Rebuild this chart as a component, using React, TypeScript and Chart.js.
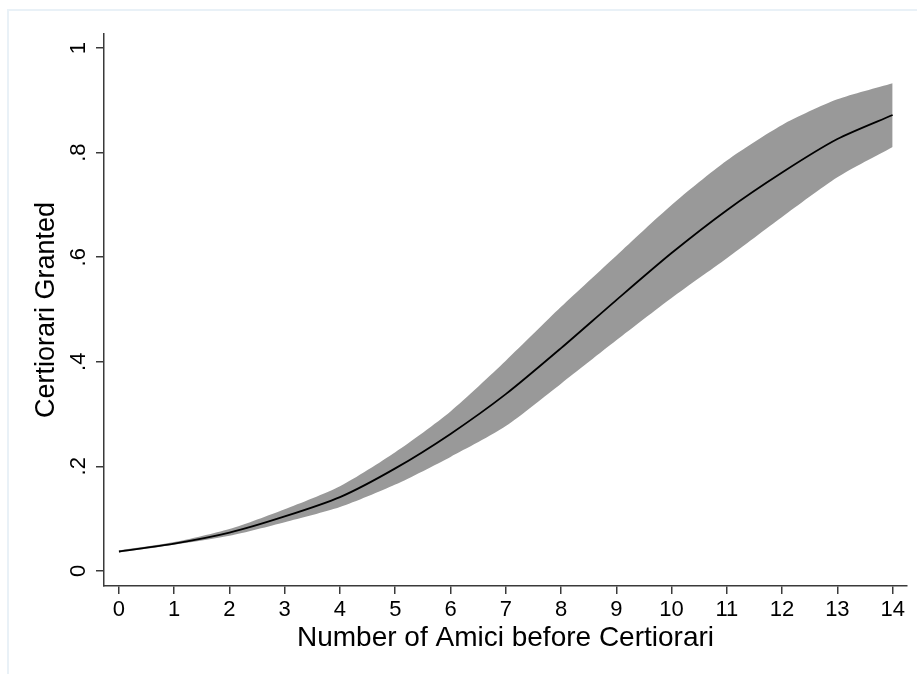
import React, { useEffect, useRef } from "react";
import { Chart, registerables } from "chart.js";

Chart.register(...registerables);

const amici = [0, 1, 2, 3, 4, 5, 6, 7, 8, 9, 10, 11, 12, 13, 14];
const predicted = [0.037, 0.052, 0.073, 0.104, 0.141, 0.196, 0.262, 0.338, 0.426, 0.518, 0.608, 0.69, 0.762, 0.826, 0.872];
const upperCI = [0.039, 0.055, 0.08, 0.118, 0.162, 0.227, 0.305, 0.402, 0.505, 0.603, 0.7, 0.785, 0.853, 0.902, 0.933];
const lowerCI = [0.035, 0.05, 0.067, 0.093, 0.122, 0.165, 0.218, 0.277, 0.358, 0.441, 0.522, 0.598, 0.677, 0.753, 0.811];
const yTickLabels = ["0", ".2", ".4", ".6", ".8", "1"];
const xTitle = "Number of Amici before Certiorari";
const yTitle = "Certiorari Granted";

const FONT = "'Liberation Sans', Arial, sans-serif";
const AXIS = "#3a3a3a";

const framePlugin = {
  id: "frame",
  beforeDraw(chart: any) {
    const ctx = chart.ctx;
    ctx.save();
    ctx.fillStyle = "#ffffff";
    ctx.fillRect(0, 0, chart.width, chart.height);
    ctx.strokeStyle = "#e9f1f7";
    ctx.lineWidth = 2;
    ctx.beginPath();
    ctx.moveTo(8, chart.height);
    ctx.lineTo(8, 10);
    ctx.lineTo(chart.width, 10);
    ctx.stroke();
    ctx.restore();
  },
};

export default function App() {
  const ref = useRef<HTMLCanvasElement | null>(null);
  useEffect(() => {
    if (!ref.current) return;
    const pts = (arr: number[]) => amici.map((x, i) => ({ x, y: arr[i] }));
    const chart = new Chart(ref.current, {
      type: "line",
      data: {
        datasets: [
          {
            label: "predicted",
            data: pts(predicted),
            borderWidth: 1.8,
            borderColor: "#000000",
            pointRadius: 0,
            fill: false,
            tension: 0.25,
            order: 0,
          },
          {
            label: "upper",
            data: pts(upperCI),
            borderWidth: 0,
            borderColor: "rgba(0,0,0,0)",
            backgroundColor: "#999999",
            pointRadius: 0,
            fill: "+1",
            tension: 0.25,
            order: 1,
          },
          {
            label: "lower",
            data: pts(lowerCI),
            borderWidth: 0,
            borderColor: "rgba(0,0,0,0)",
            backgroundColor: "#999999",
            pointRadius: 0,
            fill: false,
            tension: 0.25,
            order: 2,
          },
        ],
      },
      options: {
        animation: false,
        responsive: false,
        maintainAspectRatio: false,
        layout: { padding: { left: 0, top: 34, right: 10, bottom: 0 } },
        plugins: { legend: { display: false }, tooltip: { enabled: false } },
        scales: {
          x: {
            type: "linear",
            min: -0.27,
            max: 14.26,
            afterFit: (s: any) => {
              s.height = 88;
            },
            border: { display: true, color: AXIS, width: 1.5 },
            grid: { display: true, drawOnChartArea: false, tickLength: 8, color: AXIS, lineWidth: 1.5 },
            ticks: {
              stepSize: 1,
              includeBounds: false,
              autoSkip: false,
              maxRotation: 0,
              padding: 3,
              color: "#000",
              font: { family: FONT, size: 22 },
            },
            title: {
              display: true,
              text: xTitle,
              color: "#000",
              font: { family: FONT, size: 28 },
              padding: { top: 0, bottom: 19 },
            },
          },
          y: {
            type: "linear",
            min: -0.029,
            max: 1.027,
            afterFit: (s: any) => {
              s.width = 104;
            },
            border: { display: true, color: AXIS, width: 1.5 },
            grid: { display: true, drawOnChartArea: false, tickLength: 8, color: AXIS, lineWidth: 1.5 },
            ticks: {
              stepSize: 0.2,
              includeBounds: false,
              minRotation: 90,
              maxRotation: 90,
              crossAlign: "center",
              padding: 8,
              color: "#000",
              font: { family: FONT, size: 22 },
              callback: (v: any) => yTickLabels[Math.round(Number(v) * 5)] ?? "",
            },
            title: {
              display: true,
              text: yTitle,
              color: "#000",
              font: { family: FONT, size: 27 },
              padding: { top: 30, bottom: 0 },
            },
          },
        },
      },
      plugins: [framePlugin],
    });
    return () => chart.destroy();
  }, []);
  return (
    <div style={{ position: "absolute", left: 0, top: 0, width: 917, height: 674 }}>
      <canvas ref={ref} width={917} height={674} style={{ width: 917, height: 674, display: "block" }} />
    </div>
  );
}
